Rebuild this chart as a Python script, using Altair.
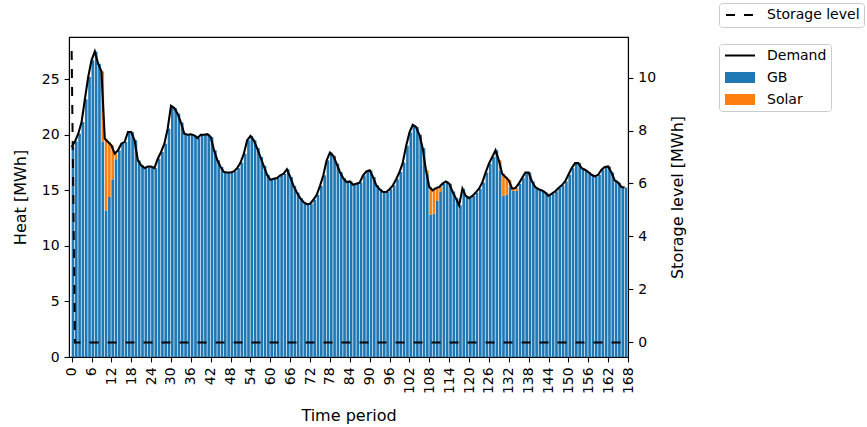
import altair as alt
import pandas as pd

FONT = "DejaVu Sans"

# ---------------- data ----------------
hours = list(range(168))

demand = [
    18.9, 19.4, 20.1, 21.15, 23.2, 25.2, 26.7, 27.5, 26.4, 25.7, 19.65, 19.35,
    19.05, 18.3, 18.6, 19.2, 19.35, 20.25, 20.25, 19.5, 17.7, 17.25, 17.0, 17.15,
    17.15, 17.0, 17.85, 18.45, 19.2, 20.55, 22.6, 22.4, 21.9, 21.1, 20.1, 20.0,
    20.05, 19.95, 19.7, 20.0, 20.0, 20.05, 19.8, 18.6, 17.7, 17.1, 16.65, 16.6,
    16.6, 16.7, 17.0, 17.5, 18.3, 19.5, 19.9, 19.5, 18.8, 18.0, 17.2, 16.4,
    15.95, 16.05, 16.1, 16.35, 16.5, 16.9, 16.2, 15.4, 14.8, 14.3, 13.95, 13.75,
    13.8, 14.15, 14.6, 15.4, 16.35, 17.7, 18.4, 18.1, 17.4, 16.65, 16.1, 15.75,
    15.8, 15.5, 15.6, 15.7, 16.35, 16.7, 16.8, 16.2, 15.45, 15.1, 14.85, 14.85,
    15.1, 15.45, 16.0, 16.65, 17.5, 19.0, 20.2, 20.9, 20.7, 20.0, 18.8, 16.8,
    15.3, 15.0, 15.2, 15.3, 15.6, 15.8, 15.6, 14.9, 14.3, 13.65, 15.15, 14.5,
    14.3, 14.5, 14.8, 15.15, 15.7, 16.6, 17.4, 18.0, 18.6, 17.7, 16.5, 16.2,
    15.9, 15.15, 15.2, 15.6, 16.1, 16.6, 16.6, 15.8, 15.3, 15.1, 15.0, 14.8,
    14.5, 14.7, 14.9, 15.2, 15.45, 15.8, 16.4, 17.0, 17.45, 17.45, 17.0, 16.85,
    16.65, 16.4, 16.25, 16.4, 16.85, 17.1, 17.15, 16.6, 15.9, 15.7, 15.3, 15.25,
]

solar = [
    0, 0, 0, 0, 0, 0, 0, 0, 0, 6.3, 6.45, 4.95,
    3.05, 0.5, 0, 0, 0, 0, 0, 0, 0, 0, 0, 0,
    0, 0, 0, 0, 0, 0, 0, 0, 0, 0, 0, 0,
    0, 0, 0, 0, 0, 0, 0, 0, 0, 0, 0, 0,
    0, 0, 0, 0, 0, 0, 0, 0, 0, 0, 0, 0,
    0, 0, 0, 0, 0, 0, 0, 0, 0, 0, 0, 0,
    0, 0, 0, 0, 0, 0, 0, 0, 0, 0, 0, 0,
    0, 0, 0, 0, 0, 0, 0, 0, 0, 0, 0, 0,
    0, 0, 0, 0, 0, 0, 0, 0, 0, 0, 0, 0.3,
    2.5, 2.1, 1.15, 0.45, 0, 0, 0, 0, 0, 0, 0, 0,
    0, 0, 0, 0, 0, 0, 0, 0, 0, 0.9, 2.0, 1.6,
    0.6, 0.2, 0.25, 0, 0, 0, 0, 0, 0, 0, 0, 0,
    0, 0, 0, 0, 0, 0, 0, 0, 0, 0, 0, 0,
    0, 0, 0, 0, 0, 0, 0, 0, 0, 0, 0, 0,
]

storage = [
    11.0, 0, 0, 0, 0, 0, 0, 0, 0, 0, 0, 0,
    0, 0, 0, 0, 0, 0, 0, 0, 0, 0, 0, 0,
    0, 0, 0, 0, 0, 0, 0, 0, 0, 0, 0, 0,
    0, 0, 0, 0, 0, 0, 0, 0, 0, 0, 0, 0,
    0, 0, 0, 0, 0, 0, 0, 0, 0, 0, 0, 0,
    0, 0, 0, 0, 0, 0, 0, 0, 0, 0, 0, 0,
    0, 0, 0, 0, 0, 0, 0, 0, 0, 0, 0, 0,
    0, 0, 0, 0, 0, 0, 0, 0, 0, 0, 0, 0,
    0, 0, 0, 0, 0, 0, 0, 0, 0, 0, 0, 0,
    0, 0, 0, 0, 0, 0, 0, 0, 0, 0, 0, 0,
    0, 0, 0, 0, 0, 0, 0, 0, 0, 0, 0, 0,
    0, 0, 0, 0, 0, 0, 0, 0, 0, 0, 0, 0,
    0, 0, 0, 0, 0, 0, 0, 0, 0, 0, 0, 0,
    0, 0, 0, 0, 0, 0, 0, 0, 0, 0, 0, 0,
]

x_ticks = list(range(0, 169, 6))
heat_ticks = [0, 5, 10, 15, 20, 25]
storage_ticks = [0, 2, 4, 6, 8, 10]
series_names = ["Demand", "GB", "Solar"]
series_colors = ["black", "#1f77b4", "#ff7f0e"]

# legend symbol shapes: a thin bar for the line entry, patches for the bars
LINE_SYM = "M-1,-0.07H1V0.07H-1Z"
RECT_SYM = "M-1,-0.36H1V0.36H-1Z"
series_shapes = [LINE_SYM, RECT_SYM, RECT_SYM]

# ---------------- tables ----------------
df = pd.DataFrame({"t": hours, "demand": demand, "solar": solar, "storage": storage})
df["gb"] = df["demand"] - df["solar"]
bars = pd.concat([
    pd.DataFrame({"t": df["t"], "series": "GB", "y0": 0.0, "y1": df["gb"]}),
    pd.DataFrame({"t": df["t"], "series": "Solar", "y0": df["gb"], "y1": df["demand"]}),
], ignore_index=True)
bars = bars[bars["y1"] > bars["y0"]]
legend_rows = pd.DataFrame({"series": series_names, "t": [None] * 3, "v": [None] * 3})

# ---------------- scales / axes / legends ----------------
x_scale = alt.Scale(domain=[-0.8, 168], nice=False, zero=False)
heat_scale = alt.Scale(domain=[0, 28.8], nice=False, zero=False)
stor_scale = alt.Scale(domain=[-0.55, 11.53], nice=False, zero=False)
color_scale = alt.Scale(domain=series_names, range=series_colors)
shape_scale = alt.Scale(domain=series_names, range=series_shapes)

x_axis = alt.Axis(values=x_ticks, labelAngle=-90, title="Time period",
                  titlePadding=14, labelFlush=False, labelOverlap=False)
left_axis = alt.Axis(values=heat_ticks, title="Heat [MWh]", titlePadding=13,
                     orient="left")
right_axis = alt.Axis(values=storage_ticks, title="Storage level [MWh]",
                      orient="right", titleAngle=270, titleBaseline="top",
                      titlePadding=14)

main_legend = alt.Legend(
    title=None, orient="none", legendX=650, legendY=7,
    strokeColor="#cccccc", fillColor="white", cornerRadius=3, padding=4,
    clipHeight=15, rowPadding=7, symbolOffset=2,
    labelFont=FONT, labelFontSize=14, labelColor="black",
    labelOffset=12, symbolSize=900, symbolOpacity=1, symbolStrokeWidth=0,
)
storage_legend = alt.Legend(
    title=None, orient="none", legendX=650, legendY=-34,
    strokeColor="#cccccc", fillColor="white", cornerRadius=3, padding=4,
    clipHeight=16, symbolOffset=2,
    labelFont=FONT, labelFontSize=14, labelColor="black", labelOffset=12,
    symbolType="stroke", symbolSize=784, symbolStrokeColor="black",
    symbolStrokeWidth=2,
)

# ---------------- layers ----------------
bar_layer = alt.Chart(bars).transform_calculate(
    xa="datum.t", xb="datum.t + 0.8"
).mark_rect(strokeWidth=0).encode(
    x=alt.X("xa:Q", scale=x_scale, axis=x_axis),
    x2="xb:Q",
    y=alt.Y("y0:Q", scale=heat_scale, axis=left_axis),
    y2="y1:Q",
    color=alt.Color("series:N", scale=color_scale, legend=main_legend),
)

demand_layer = alt.Chart(df).transform_calculate(
    series="'Demand'"
).mark_line(strokeWidth=2.1).encode(
    x=alt.X("t:Q", scale=x_scale, axis=x_axis),
    y=alt.Y("demand:Q", scale=heat_scale, axis=left_axis),
    color=alt.Color("series:N", scale=color_scale, legend=main_legend),
)

# carries the legend symbols only (no valid positions, so nothing is drawn)
legend_layer = alt.Chart(legend_rows).mark_point(filled=True, opacity=1).encode(
    x=alt.X("t:Q", scale=x_scale, axis=x_axis),
    y=alt.Y("v:Q", scale=heat_scale, axis=left_axis),
    color=alt.Color("series:N", scale=color_scale, legend=main_legend),
    shape=alt.Shape("series:N", scale=shape_scale, legend=main_legend),
)

storage_layer = alt.Chart(df).transform_calculate(
    sl="'Storage level'"
).mark_line(color="black", strokeWidth=2).encode(
    x=alt.X("t:Q", scale=x_scale, axis=x_axis),
    y=alt.Y("storage:Q", scale=stor_scale, axis=right_axis),
    strokeDash=alt.StrokeDash("sl:N", scale=alt.Scale(domain=["Storage level"], range=[[9, 9]]),
                              legend=storage_legend),
)

heat_layers = alt.layer(bar_layer, demand_layer, legend_layer)

chart = alt.layer(heat_layers, storage_layer).resolve_scale(
    y="independent"
).properties(
    width=559, height=320,
    autosize=alt.AutoSizeParams(type="none"),
    padding={"left": 69, "top": 37, "right": 239, "bottom": 70},
    background="white",
).configure_view(
    stroke="black", strokeWidth=1.1
).configure_axis(
    labelFont=FONT, labelFontSize=14, titleFont=FONT, titleFontSize=16,
    titleFontWeight="normal", labelColor="black", titleColor="black",
    tickColor="black", domainColor="black", tickSize=4.9, tickWidth=1.1,
    domainWidth=1.1, labelPadding=4.9, grid=False,
)

chart.save("out.html", embed_options={"renderer": "svg", "actions": False})
